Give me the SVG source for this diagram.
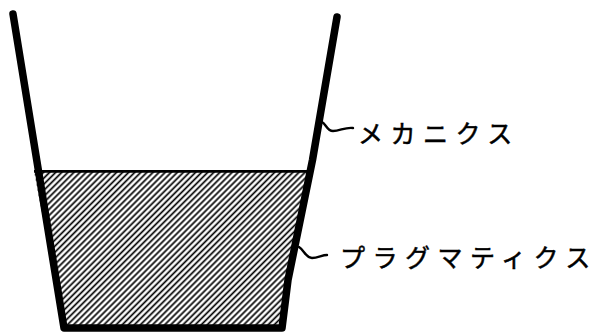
<svg xmlns="http://www.w3.org/2000/svg" width="600" height="335" viewBox="0 0 600 335">
<style>
.wall{fill:none;stroke:#000;stroke-width:7.5;stroke-linecap:round;stroke-linejoin:round}
.lead{fill:none;stroke:#000;stroke-width:2.4;stroke-linecap:round}
.lbl{font-family:"Noto Sans CJK JP","Noto Sans",sans-serif;font-size:25px;letter-spacing:7.5px;fill:#000;stroke:#000;stroke-width:0.5}
</style>
<defs>
<pattern id="hatch" patternUnits="userSpaceOnUse" width="4.3" height="4.3" patternTransform="rotate(-45)">
<rect width="4.3" height="4.3" fill="#fff"/>
<line x1="0" y1="2.15" x2="4.3" y2="2.15" stroke="#000" stroke-width="1.7"/>
</pattern>
</defs>
<rect width="600" height="335" fill="#fff"/>
<g id="liquid">
<polygon points="34,171 312,171 288,280 282,328 64,328" fill="url(#hatch)"/>
<line x1="34" y1="171.3" x2="313" y2="171.3" stroke="#000" stroke-width="2.8"/>
</g>
<g id="cup">
<polyline class="wall" points="13,14 64,328 282,328 288,280 312.5,160 337,17"/>
</g>
<g id="connectors">
<path class="lead" d="M322,122 C326,124 327,131 333,131 C340,131 345,127 353,128"/>
<path class="lead" d="M299,247 C304,250 306,258 312,258 C318,258 322,255 327,255"/>
</g>
<g id="label-mechanics">
<text class="lbl" x="358" y="143">メカニクス</text>
</g>
<g id="label-pragmatics">
<text class="lbl" x="340" y="267">プラグマティクス</text>
</g>
</svg>
